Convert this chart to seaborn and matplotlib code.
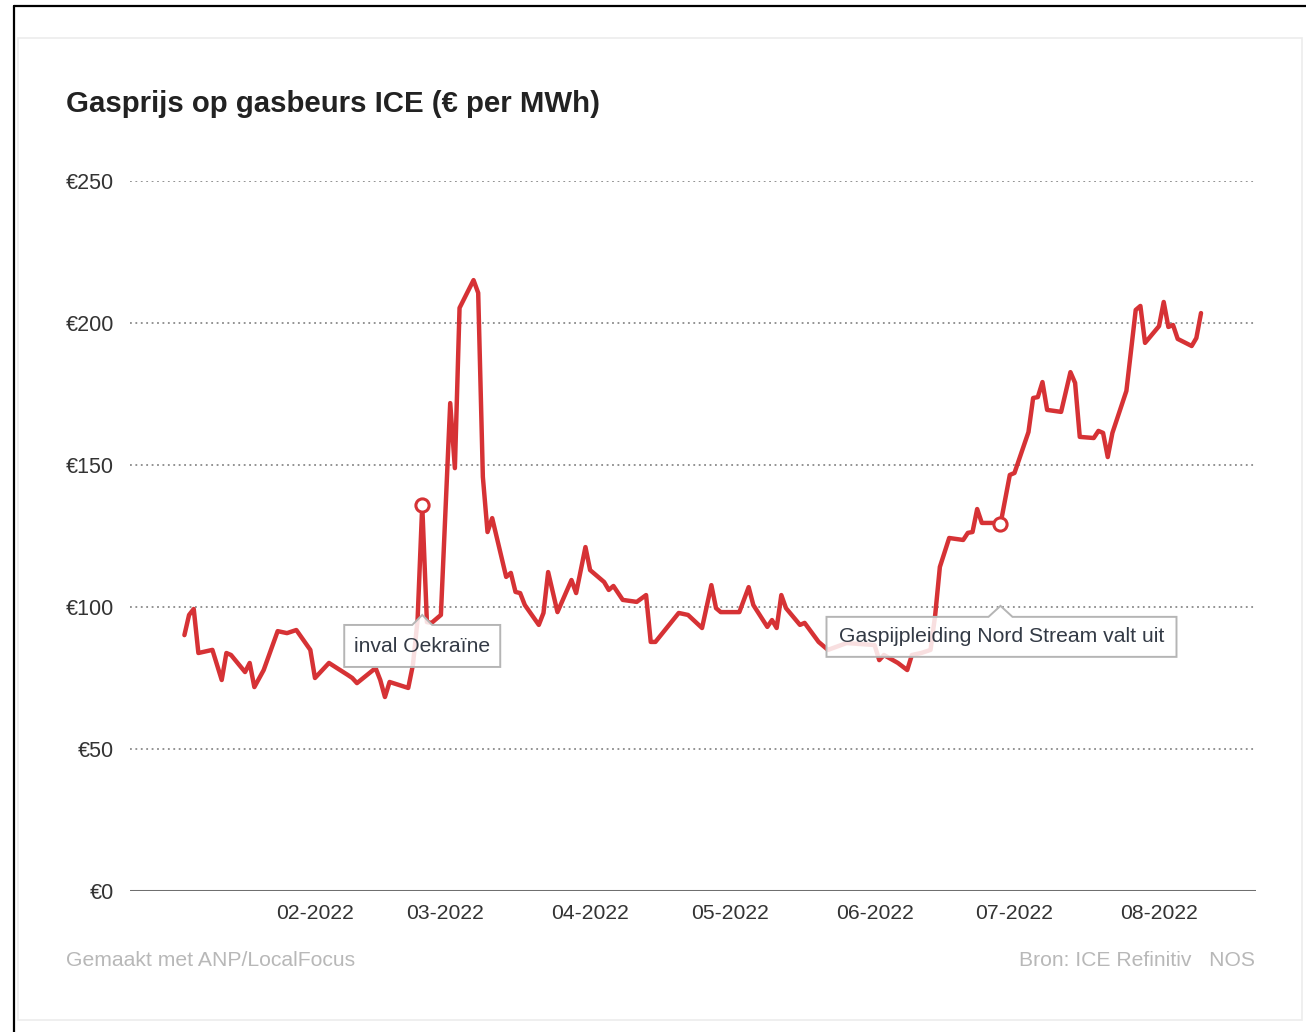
import matplotlib
matplotlib.use("Agg")
import matplotlib.pyplot as plt
import matplotlib.dates as mdates
import matplotlib.transforms as mtransforms
from matplotlib.patches import Polygon, Rectangle
from matplotlib.lines import Line2D
import pandas as pd
import seaborn as sns

# ---- data ----
dates = [
    "2022-01-04", "2022-01-05", "2022-01-06", "2022-01-07", "2022-01-10", "2022-01-12",
    "2022-01-13", "2022-01-14", "2022-01-17", "2022-01-18", "2022-01-19", "2022-01-21",
    "2022-01-24", "2022-01-26", "2022-01-28", "2022-01-31", "2022-02-01", "2022-02-04",
    "2022-02-08", "2022-02-09", "2022-02-10", "2022-02-14", "2022-02-15", "2022-02-16",
    "2022-02-17", "2022-02-21", "2022-02-22", "2022-02-23", "2022-02-24", "2022-02-25",
    "2022-02-26", "2022-02-28", "2022-03-02", "2022-03-03", "2022-03-04", "2022-03-07",
    "2022-03-08", "2022-03-09", "2022-03-10", "2022-03-11", "2022-03-14", "2022-03-15",
    "2022-03-16", "2022-03-17", "2022-03-18", "2022-03-21", "2022-03-22", "2022-03-23",
    "2022-03-25", "2022-03-28", "2022-03-29", "2022-03-31", "2022-04-01", "2022-04-04",
    "2022-04-05", "2022-04-06", "2022-04-08", "2022-04-11", "2022-04-13", "2022-04-14",
    "2022-04-15", "2022-04-20", "2022-04-22", "2022-04-25", "2022-04-27", "2022-04-28",
    "2022-04-29", "2022-05-03", "2022-05-05", "2022-05-06", "2022-05-09", "2022-05-10",
    "2022-05-11", "2022-05-12", "2022-05-13", "2022-05-16", "2022-05-17", "2022-05-20",
    "2022-05-22", "2022-05-26", "2022-06-01", "2022-06-02", "2022-06-03", "2022-06-06",
    "2022-06-08", "2022-06-09", "2022-06-11", "2022-06-13", "2022-06-14", "2022-06-15",
    "2022-06-17", "2022-06-20", "2022-06-21", "2022-06-22", "2022-06-23", "2022-06-24",
    "2022-06-27", "2022-06-28", "2022-06-30", "2022-07-01", "2022-07-04", "2022-07-05",
    "2022-07-06", "2022-07-07", "2022-07-08", "2022-07-11", "2022-07-13", "2022-07-14",
    "2022-07-15", "2022-07-18", "2022-07-19", "2022-07-20", "2022-07-21", "2022-07-22",
    "2022-07-25", "2022-07-27", "2022-07-28", "2022-07-29", "2022-08-01", "2022-08-02",
    "2022-08-03", "2022-08-04", "2022-08-05", "2022-08-08", "2022-08-09", "2022-08-10",
]
prices = [
    90.1, 97.2, 99.3, 83.8, 84.9, 74.3,
    83.8, 83.1, 77.1, 80.3, 71.8, 77.8,
    91.5, 90.8, 91.9, 84.9, 75.0, 80.3,
    76.1, 75.0, 73.2, 78.5, 74.3, 68.3,
    73.6, 71.5, 79.6, 95.4, 135.9, 94.7,
    94.4, 97.2, 171.8, 148.9, 205.3, 215.1,
    210.6, 145.8, 126.4, 131.3, 110.6, 112.0,
    105.3, 104.9, 100.7, 93.7, 97.9, 112.3,
    98.2, 109.5, 104.9, 121.1, 113.0, 108.8,
    106.0, 107.4, 102.5, 101.8, 104.2, 87.7,
    87.7, 97.9, 97.2, 92.6, 107.7, 99.6,
    98.2, 98.2, 107.0, 100.7, 93.0, 95.4,
    92.6, 104.2, 99.6, 93.7, 94.4, 87.7,
    84.9, 87.3, 86.6, 81.3, 83.1, 80.3,
    77.8, 83.1, 83.8, 84.9, 97.2, 114.1,
    124.3, 123.6, 126.1, 126.4, 134.5, 129.6,
    129.6, 129.2, 146.5, 147.2, 161.6, 173.6,
    173.9, 179.2, 169.4, 168.7, 182.7, 178.9,
    159.9, 159.5, 162.0, 161.3, 152.8, 161.3,
    176.1, 204.6, 206.0, 193.0, 198.9, 207.4,
    198.6, 199.3, 194.4, 191.9, 194.7, 203.5,
]
event_labels = ["inval Oekraïne", "Gaspijpleiding Nord Stream valt uit"]
event_dates = ["2022-02-24", "2022-06-28"]
event_values = [135.9, 129.2]
y_ticks = [0, 50, 100, 150, 200, 250]
title = "Gasprijs op gasbeurs ICE (€ per MWh)"
footer_left = "Gemaakt met ANP/LocalFocus"
footer_right = "Bron: ICE Refinitiv   NOS"

df = pd.DataFrame({"date": pd.to_datetime(dates), "price": prices})

# ---- style ----
sns.set_theme(style="white")
plt.rcParams["font.family"] = ["Liberation Sans", "DejaVu Sans"]

RED = "#d63235"
FS = 15.2
W, H = 1306, 1032
fig = plt.figure(figsize=(W / 100, H / 100), dpi=100)
fig.patch.set_facecolor("white")

# outer black frame (top & left) and light card border
fig.add_artist(Line2D([14 / W, 1.0], [1 - 6 / H, 1 - 6 / H], color="black", lw=1.6))
fig.add_artist(Line2D([14 / W, 14 / W], [0, 1 - 6 / H], color="black", lw=1.6))
fig.add_artist(Rectangle((18 / W, 1 - 1020 / H), (1302 - 18) / W, (1020 - 38) / H,
                         transform=fig.transFigure, fill=False, ec="#ececec", lw=1.2))

ax = fig.add_axes([130 / W, 1 - 891 / H, (1256 - 130) / W, (891 - 181) / H])
ax.set_facecolor("none")

sns.lineplot(data=df, x="date", y="price", color=RED, lw=3.2, estimator=None,
             ax=ax, zorder=3, legend=False)

ax.set_ylim(0, 250)
ax.set_xlim(pd.Timestamp("2021-12-23 08:00"), pd.Timestamp("2022-08-21 19:00"))

for v in y_ticks[1:]:
    ax.axhline(v, color="#8a8a8a", lw=1.3, ls=(0, (1, 2.0)), zorder=1)
ax.axhline(0, color="#6f6f6f", lw=2.2, zorder=2)

ax.set_yticks(y_ticks)
ax.set_yticklabels([f"€{v}" for v in y_ticks])
ax.xaxis.set_major_locator(mdates.MonthLocator(bymonth=range(2, 9)))
ax.xaxis.set_major_formatter(mdates.DateFormatter("%m-%Y"))
ax.tick_params(axis="y", length=0, pad=11.5, labelsize=15.5, labelcolor="#333333")
ax.tick_params(axis="x", length=0, pad=9.5, labelsize=FS, labelcolor="#333333")
ax.set_xlabel("")
ax.set_ylabel("")
for s in ax.spines.values():
    s.set_visible(False)
ax.grid(False)

# annotation boxes (offsets in pixels relative to the pointer tip)
ann_tip_values = [97.2, 100.4]
boxes = [(-78, 78, 10, 52, 10), (-174, 176, 11, 51, 12)]
text_offsets = [(0, -32), (1, -31)]
for lab, d, tipv, (x0, x1, ytop, ybot, hw), (tx, ty) in zip(
        event_labels, event_dates, ann_tip_values, boxes, text_offsets):
    tr = fig.dpi_scale_trans + mtransforms.ScaledTranslation(
        mdates.date2num(pd.Timestamp(d)), tipv, ax.transData)
    verts = [(x0, -ybot), (x1, -ybot), (x1, -ytop), (hw, -ytop), (0, 0),
             (-hw, -ytop), (x0, -ytop)]
    verts = [(a / 100, b / 100) for a, b in verts]
    poly = Polygon(verts, closed=True, transform=tr, fc=(1, 1, 1, 0.85),
                   ec="#b5b5b5", lw=1.4, zorder=4)
    ax.add_patch(poly)
    ax.text(tx / 100, ty / 100, lab, transform=tr, ha="center", va="center",
            fontsize=FS, color="#333a45", zorder=5)

ax.plot(pd.to_datetime(event_dates), event_values, ls="none", marker="o", ms=9.5,
        mfc="white", mec=RED, mew=2.2, zorder=6)

# title and footer
fig.text(66 / W, 1 - 104 / H, title, fontsize=21.2, fontweight="bold",
         color="#222222", ha="left", va="center")
fig.text(66 / W, 1 - 960 / H, footer_left, fontsize=FS, color="#b8b8b8",
         ha="left", va="center")
fig.text(1255 / W, 1 - 960 / H, footer_right, fontsize=FS, color="#b8b8b8",
         ha="right", va="center")

fig.savefig("out.png", dpi=100, facecolor="white")
